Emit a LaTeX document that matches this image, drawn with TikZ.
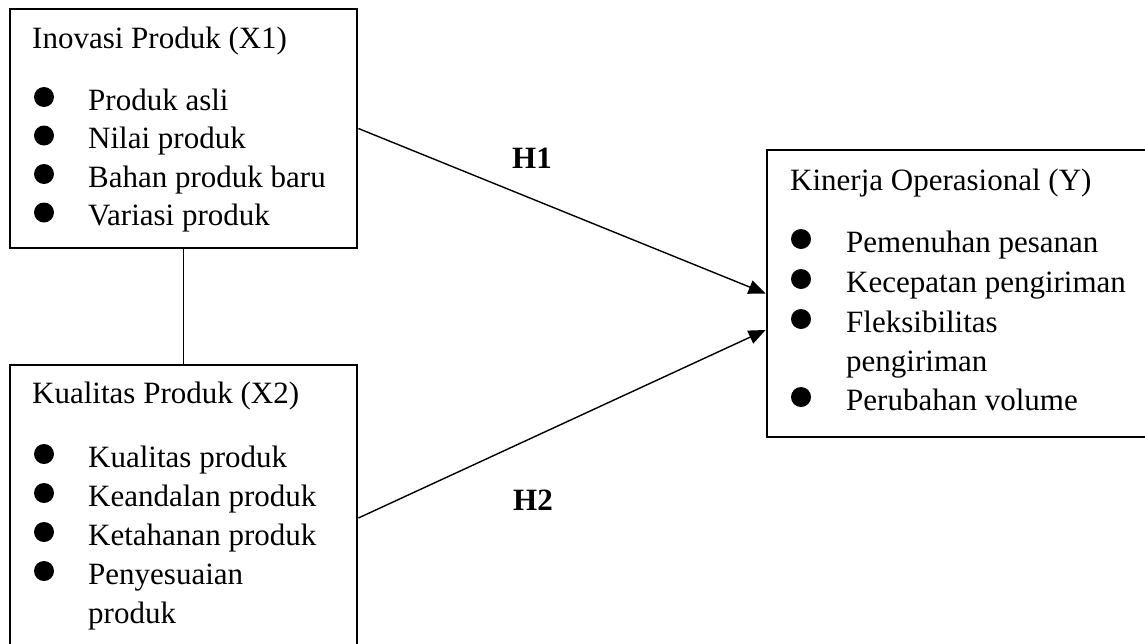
\documentclass[tikz,border=0pt]{standalone}
\usepackage{fontspec}
\setmainfont{Liberation Serif}
\usetikzlibrary{arrows.meta,calc}
\begin{document}
\begin{tikzpicture}[x=1pt,y=-1pt,
  box/.style={draw,line width=2.8pt,inner sep=0pt,rectangle},
  txt/.style={anchor=base west,inner sep=0pt,font=\fontsize{31}{36}\selectfont},
  hlab/.style={anchor=base,inner sep=0pt,font=\fontsize{31}{36}\selectfont\bfseries},
  bul/.style={circle,fill=black,inner sep=0pt,minimum size=20pt},
  conn/.style={line width=1.4pt},
  arr/.style={line width=1.4pt,-{Triangle[length=17pt,width=14pt]}}]
\useasboundingbox (0,0) rectangle (1145,643);
% boxes
\node[box,minimum width=347pt,minimum height=239pt] (b1) at (183.5,128.5) {};
\node[box,minimum width=347pt,minimum height=306pt] (b2) at (183.5,518) {};
\node[box,minimum width=383pt,minimum height=287pt] (b3) at (958.5,293.5) {};
% box 1
\node[txt] (t1) at (32,48) {Inovasi Produk (X1)};
\node[bul] (p11) at (44,97) {};   \node[txt] (i11) at (88,110) {Produk asli};
\node[bul] (p12) at (44,135.5) {}; \node[txt] (i12) at (88,148.5) {Nilai produk};
\node[bul] (p13) at (44,174) {};  \node[txt] (i13) at (88,187) {Bahan produk baru};
\node[bul] (p14) at (44,212.5) {}; \node[txt] (i14) at (88,225.5) {Variasi produk};
% box 2
\node[txt] (t2) at (32,403) {Kualitas Produk (X2)};
\node[bul] (p21) at (44,454) {};  \node[txt] (i21) at (88,467) {Kualitas produk};
\node[bul] (p22) at (44,493) {};  \node[txt] (i22) at (88,506) {Keandalan produk};
\node[bul] (p23) at (44,532) {};  \node[txt] (i23) at (88,545) {Ketahanan produk};
\node[bul] (p24) at (44,571) {};  \node[txt] (i24) at (88,584) {Penyesuaian};
\node[txt] (i25) at (88,623) {produk};
% box 3
\node[txt] (t3) at (790,190) {Kinerja Operasional (Y)};
\node[bul] (p31) at (801,239) {}; \node[txt] (i31) at (846,252) {Pemenuhan pesanan};
\node[bul] (p32) at (801,279) {}; \node[txt] (i32) at (846,292) {Kecepatan pengiriman};
\node[bul] (p33) at (801,319) {}; \node[txt] (i33) at (846,332) {Fleksibilitas};
\node[txt] (i34) at (846,371) {pengiriman};
\node[bul] (p35) at (801,397) {}; \node[txt] (i35) at (846,410) {Perubahan volume};
% connectors
\draw[conn] (b1.south) -- (b2.north);
\coordinate (h2end) at ($(b3.west)+(0,36.5)$);
\draw[arr] (b1.east) -- (b3.west);
\draw[arr] (b2.east) -- (h2end);
\node[hlab] (h1) at (532,168) {H1};
\node[hlab] (h2) at (533,510) {H2};
\end{tikzpicture}
\end{document}
